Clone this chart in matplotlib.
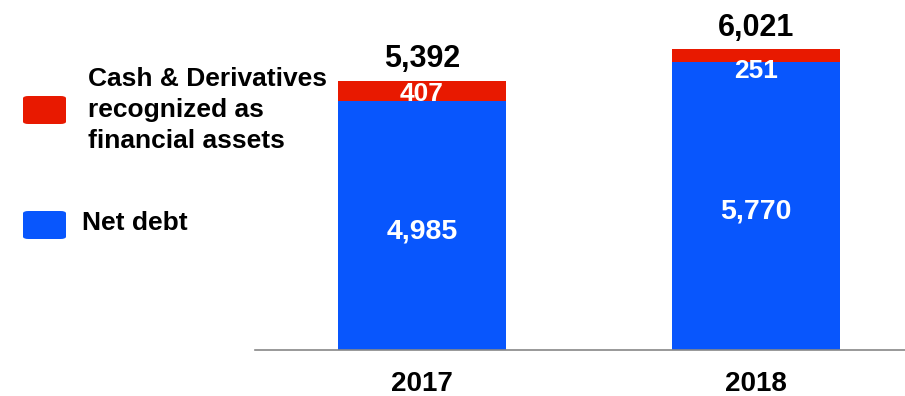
import matplotlib
matplotlib.use("Agg")
import matplotlib.pyplot as plt
from matplotlib.patches import FancyBboxPatch

plt.rcParams["font.family"] = ["Liberation Sans", "DejaVu Sans"]
plt.rcParams["font.weight"] = "bold"

RED = "#e81900"
BLUE = "#0856fd"

years = ["2017", "2018"]
net_debt = [4985, 5770]
cash_deriv = [407, 251]
totals = [5392, 6021]

W, H = 905, 396
fig = plt.figure(figsize=(W / 100, H / 100), dpi=100)
ax = fig.add_axes([255 / W, 46 / H, 650 / W, 350 / H])

x = list(range(len(years)))
ax.bar(x, net_debt, width=0.504, color=BLUE)
ax.bar(x, cash_deriv, width=0.504, bottom=net_debt, color=RED)

ax.set_xlim(-0.5007, 1.448)
ax.set_ylim(0, 7007)

# value labels: blue segment centre, red segment (pushed down when thin), total on top
red_offsets = [-2.5, -11]
for i in x:
    ax.annotate(f"{net_debt[i]:,}", (i, net_debt[i] / 2), xytext=(0, -4),
                textcoords="offset points", ha="center", va="center",
                color="white", fontsize=20.5, fontweight="bold")
    ax.annotate(f"{cash_deriv[i]:,}", (i, net_debt[i] + cash_deriv[i] / 2),
                xytext=(0, red_offsets[i]), textcoords="offset points",
                ha="center", va="center", color="white", fontsize=19,
                fontweight="bold")
    ax.annotate(f"{totals[i]:,}", (i, totals[i]), xytext=(0, 4.5),
                textcoords="offset points", ha="center", va="bottom",
                color="black", fontsize=22, fontweight="bold")

for s in ["top", "right", "left"]:
    ax.spines[s].set_visible(False)
ax.spines["bottom"].set_color("#888888")
ax.spines["bottom"].set_linewidth(1.2)
ax.set_yticks([])
ax.set_xticks(x)
ax.set_xticklabels(years, fontsize=20, fontweight="bold")
ax.tick_params(axis="x", length=0, pad=15)

# legend
def swatch(y_top, color):
    p = FancyBboxPatch((23 / W, 1 - (y_top + 29) / H), 43 / W, 28 / H,
                       boxstyle="round,pad=0,rounding_size=0.006",
                       transform=fig.transFigure, facecolor=color,
                       edgecolor="none")
    fig.patches.append(p)

swatch(95, RED)
swatch(210, BLUE)
fig.text(88 / W, 1 - 110 / H, "Cash & Derivatives\nrecognized as\nfinancial assets",
         ha="left", va="center", fontsize=19, fontweight="bold",
         linespacing=1.36)
fig.text(82 / W, 1 - 223 / H, "Net debt", ha="left", va="center",
         fontsize=19, fontweight="bold")

fig.savefig("out.png", dpi=100)
